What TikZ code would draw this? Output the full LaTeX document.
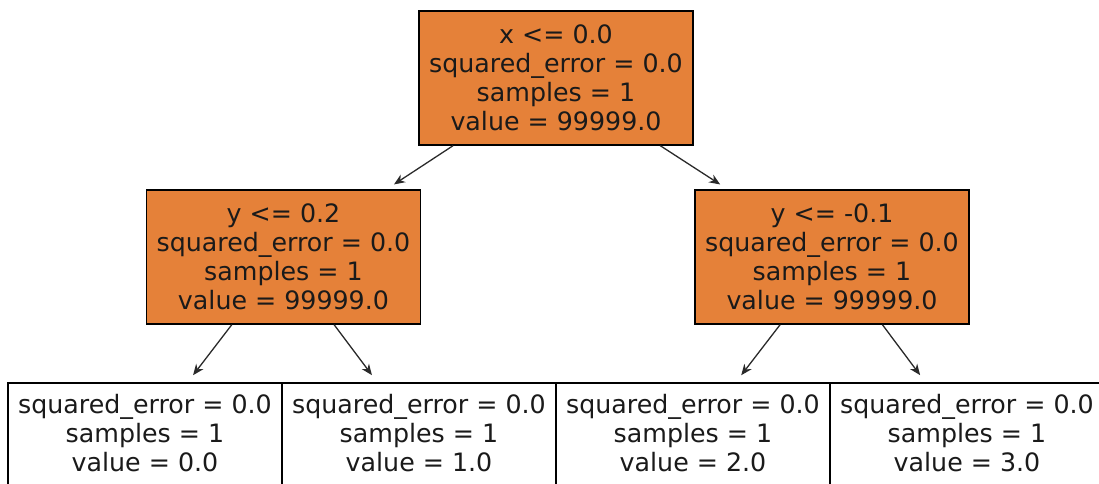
\documentclass[tikz,border=0pt]{standalone}
\usepackage{fontspec}
\setmainfont{DejaVu Sans}
\usetikzlibrary{arrows.meta}
\definecolor{nodeorange}{HTML}{E58139}
\definecolor{edgegray}{HTML}{2A2A2A}
\definecolor{textdark}{HTML}{1A1A1A}
\tikzset{
  treebox/.style={draw=black, line width=1.3pt, rectangle, inner sep=0pt,
    minimum width=274pt, minimum height=134pt, align=center, text=textdark,
    font=\fontsize{25.3}{29}\selectfont},
  splitbox/.style={treebox, fill=nodeorange},
  leafbox/.style={treebox, fill=white, minimum height=110pt},
  leaftext/.style={inner sep=0pt, align=center, text=textdark, font=\fontsize{25.3}{29}\selectfont},
  edge/.style={draw=edgegray, line width=1.3pt, shorten >=9pt,
    -{Stealth[length=11pt,width=9pt,inset=3.5pt]}}
}
\begin{document}
\begin{tikzpicture}[x=1pt,y=1pt]
\useasboundingbox (0,0) rectangle (1099,-483);
\node[splitbox] (top) at (556,-78) {x <= 0.0\\squared\_error = 0.0\\samples = 1\\value = 99999.0};
\node[splitbox] (ml) at (283.5,-257) {y <= 0.2\\squared\_error = 0.0\\samples = 1\\value = 99999.0};
\node[splitbox] (mr) at (832,-257) {y <= -0.1\\squared\_error = 0.0\\samples = 1\\value = 99999.0};
\node[leafbox] (b1) at (145,-438) {};
\node[leafbox] (b2) at (419,-438) {};
\node[leafbox] (b3) at (693,-438) {};
\node[leafbox] (b4) at (967,-438) {};
\node[leaftext] (t1) at (145,-433) {squared\_error = 0.0\\samples = 1\\value = 0.0};
\node[leaftext] (t2) at (419,-433) {squared\_error = 0.0\\samples = 1\\value = 1.0};
\node[leaftext] (t3) at (693,-433) {squared\_error = 0.0\\samples = 1\\value = 2.0};
\node[leaftext] (t4) at (967,-433) {squared\_error = 0.0\\samples = 1\\value = 3.0};
\draw[edge] (top) -- (ml);
\draw[edge] (top) -- (mr);
\draw[edge] (ml) -- (b1);
\draw[edge] (ml) -- (b2);
\draw[edge] (mr) -- (b3);
\draw[edge] (mr) -- (b4);
\end{tikzpicture}
\end{document}
